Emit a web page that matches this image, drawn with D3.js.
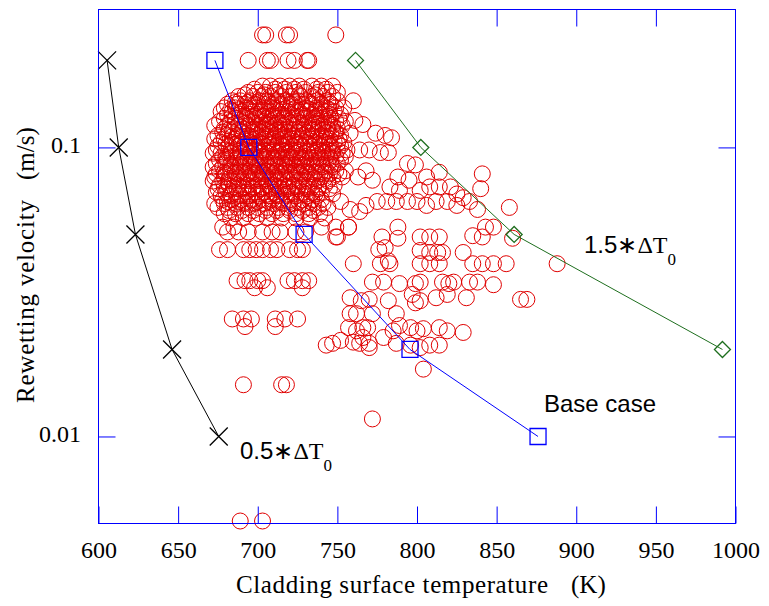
<!DOCTYPE html>
<html>
<head>
<meta charset="utf-8">
<script src="https://cdn.jsdelivr.net/npm/d3@7"></script>
<style>
  body { margin: 0; background: #fff; }
  svg { display: block; }
</style>
</head>
<body>
<div id="chart"></div>
<script>
'use strict';

// measured rewetting points, read off the figure
// rows of the dense cluster: [velocity (m/s), [temperatures (K)]]
const coreRows = [
  [0.245, [703, 705, 718, 720, 749]],
  [0.2, [694, 706, 708, 719, 723, 731, 732]],
  [0.163, [703, 708, 714, 720, 726, 734, 740, 747]],
  [0.155, [694, 700, 705, 711, 718, 724, 730, 738, 744, 750]],
  [0.145, [684, 689, 695, 701, 706, 712, 718, 725, 731, 737, 744, 750]],
  [0.137, [679, 686, 693, 699, 705, 711, 718, 724, 730, 737, 743, 749, 754]],
  [0.130, [681, 689, 695, 700, 705, 710, 715, 721, 728, 734, 739, 745, 752]],
  [0.123, [676, 683, 690, 696, 703, 708, 713, 719, 725, 732, 737, 743, 749, 755]],
  [0.116, [679, 685, 691, 698, 703, 708, 714, 720, 726, 733, 738, 744, 750]],
  [0.110, [675, 681, 687, 694, 700, 705, 711, 716, 722, 728, 734, 740, 746, 752]],
  [0.104, [677, 684, 690, 696, 701, 707, 713, 718, 724, 730, 736, 742, 748, 754]],
  [0.098, [674, 680, 686, 693, 698, 704, 710, 715, 721, 726, 733, 738, 744, 750, 756]],
  [0.093, [678, 684, 690, 696, 702, 708, 713, 719, 725, 730, 737, 743, 749, 755]],
  [0.088, [674, 680, 686, 692, 698, 703, 709, 715, 720, 726, 732, 738, 744, 750]],
  [0.083, [676, 683, 689, 695, 701, 706, 712, 718, 724, 730, 737, 743, 749, 755]],
  [0.079, [673, 679, 686, 692, 698, 703, 709, 715, 721, 728, 734, 740, 747, 753]],
  [0.074, [676, 682, 688, 694, 700, 706, 711, 717, 723, 729, 735, 742, 748]],
  [0.070, [674, 680, 686, 693, 699, 704, 710, 716, 721, 728, 734, 740]],
  [0.066, [678, 684, 690, 696, 703, 709, 715, 721, 728, 734, 740]],
  [0.062, [675, 681, 687, 694, 700, 706, 713, 719, 725, 732, 738, 744]],
  [0.059, [679, 686, 694, 701, 709, 716, 724, 732, 739]],
  [0.057, [683, 691, 699, 706, 715, 724, 733, 742]],
  [0.053, [678, 685, 740, 749, 757]]
];

// readings lying between the rows above
const coreInfill = [
  [0.159, [698, 711, 717, 723, 729, 737, 743]],
  [0.150, [688, 697, 702, 708, 715, 721, 727, 734, 741, 747]],
  [0.141, [681, 687, 692, 698, 704, 709, 715, 721, 728, 734, 740, 746]],
  [0.133, [677, 684, 690, 697, 702, 708, 713, 719, 726, 731, 736, 742, 748]],
  [0.126, [679, 686, 693, 699, 706, 711, 716, 722, 729, 735, 740, 746, 751]],
  [0.119, [673, 681, 688, 694, 700, 706, 711, 717, 723, 729, 735, 741, 747, 753]],
  [0.113, [678, 684, 690, 697, 702, 708, 713, 719, 725, 731, 737, 743, 749]],
  [0.107, [673, 679, 686, 693, 698, 704, 710, 716, 721, 727, 733, 739, 745, 751]],
  [0.101, [675, 682, 688, 694, 699, 705, 711, 716, 722, 728, 734, 740, 746, 752]],
  [0.0955, [672, 677, 683, 689, 695, 701, 706, 712, 718, 723, 729, 735, 741, 747, 753]],
  [0.0905, [676, 681, 688, 694, 699, 705, 711, 717, 722, 728, 734, 740, 746, 752]],
  [0.0855, [672, 678, 684, 690, 696, 701, 707, 713, 718, 724, 729, 735, 741, 747]],
  [0.081, [674, 680, 687, 693, 699, 704, 710, 716, 722, 727, 733, 739, 745, 751]],
  [0.0765, [672, 678, 684, 690, 696, 702, 707, 713, 719, 726, 731, 737, 744]],
  [0.072, [675, 681, 687, 691, 697, 702, 708, 714, 719, 725, 731, 738, 745]],
  [0.068, [677, 683, 689, 695, 701, 707, 712, 718, 724, 731, 737]],
  [0.064, [673, 679, 686, 692, 698, 704, 710, 716, 722, 729, 735, 741]],
  [0.0605, [682, 690, 697, 705, 712, 720, 728, 735]]
];

// the solid centre of the cluster
const coreCentre = [
  [0.152, [692, 704, 713, 726, 736]],
  [0.143, [686, 694, 700, 707, 713, 719, 723, 732, 739, 745]],
  [0.135, [683, 688, 695, 703, 710, 716, 722, 728, 733, 740, 745]],
  [0.128, [684, 692, 698, 703, 709, 717, 724, 730, 737, 744]],
  [0.121, [686, 692, 698, 705, 710, 715, 721, 727, 734, 739, 745]],
  [0.115, [682, 688, 695, 700, 706, 712, 717, 723, 729, 735, 741, 747]],
  [0.109, [684, 690, 696, 702, 708, 714, 719, 726, 732, 738, 743]],
  [0.103, [680, 687, 692, 698, 703, 709, 715, 720, 726, 732, 739, 745, 750]],
  [0.097, [683, 689, 696, 701, 707, 713, 718, 724, 731, 736, 741, 747]],
  [0.092, [680, 687, 692, 698, 704, 710, 715, 721, 727, 733, 739, 745]],
  [0.087, [683, 689, 695, 700, 706, 711, 717, 723, 728, 734, 740, 746]],
  [0.082, [679, 686, 691, 697, 703, 708, 714, 720, 726, 731, 736, 742]],
  [0.078, [682, 688, 694, 700, 705, 711, 717, 723, 730, 736, 742]],
  [0.073, [679, 685, 691, 697, 703, 708, 713, 719, 725, 732, 738]],
  [0.069, [683, 688, 694, 700, 706, 712, 718, 723, 730, 736]],
  [0.065, [681, 688, 694, 700, 707, 714, 720, 726, 733]]
];

// scattered points right of the cluster: [T, v]
const rightWing = [
  [760, 0.145], [761, 0.124], [766, 0.12], [758, 0.112], [774, 0.112], [780, 0.11],
  [784, 0.108], [764, 0.098], [770, 0.098], [777, 0.096], [782, 0.096],
  [768, 0.083], [763, 0.079], [772, 0.077]
];

const middleBand = [
  [747, 0.069], [752, 0.065], [758, 0.061], [764, 0.06], [768, 0.063], [775, 0.065],
  [781, 0.065], [787, 0.065], [794, 0.065], [800, 0.065], [806, 0.063], [812, 0.065],
  [819, 0.065], [825, 0.063], [783, 0.073], [789, 0.071], [802, 0.071], [808, 0.073],
  [814, 0.073], [821, 0.073], [825, 0.069], [829, 0.067], [833, 0.065], [838, 0.061],
  [794, 0.088], [799, 0.087], [788, 0.079], [795, 0.077], [806, 0.079], [814, 0.082],
  [841, 0.081], [840, 0.072], [858, 0.062]
];

const lowerLeft = [
  [681, 0.051], [688, 0.051], [694, 0.051], [703, 0.051], [709, 0.051], [714, 0.051],
  [724, 0.051], [730, 0.051], [750, 0.049],
  [676, 0.0443], [681, 0.0443], [691, 0.0443], [695, 0.0443], [699, 0.0443], [703, 0.0443],
  [708, 0.0443], [712, 0.0443], [720, 0.0443], [725, 0.0443], [728, 0.0443],
  [687, 0.0346], [692, 0.0346], [695, 0.0346], [700, 0.0346], [703, 0.0346], [719, 0.0346],
  [723, 0.0346], [728, 0.0346], [732, 0.0346], [698, 0.0327], [706, 0.0327], [728, 0.0327],
  [684, 0.0255], [691, 0.0255], [696, 0.0255], [711, 0.0255], [717, 0.0255], [725, 0.0255],
  [692, 0.024], [711, 0.024],
  [691, 0.0151], [715, 0.0151], [718, 0.0151],
  [689, 0.0051], [703, 0.0051], [772, 0.0115]
];

const lowerRight = [
  [757, 0.053], [749, 0.049], [778, 0.049], [788, 0.053], [788, 0.0485], [802, 0.049],
  [808, 0.049], [814, 0.049], [835, 0.0495], [841, 0.049], [843, 0.053], [848, 0.053],
  [860, 0.0485], [776, 0.0443], [780, 0.045], [802, 0.044], [808, 0.0433], [813, 0.0433],
  [816, 0.0433], [829, 0.0433], [760, 0.0396], [777, 0.0396], [783, 0.0396], [782, 0.0405],
  [802, 0.0396], [808, 0.0396], [814, 0.0396], [835, 0.0396], [841, 0.0396], [848, 0.0396],
  [856, 0.0396], [888, 0.0396], [772, 0.0342], [779, 0.0342], [789, 0.0338], [799, 0.0338],
  [802, 0.0342], [816, 0.0342], [820, 0.0338], [823, 0.0342], [833, 0.0342], [838, 0.0342],
  [848, 0.0335], [758, 0.0302], [765, 0.0295], [770, 0.0298], [782, 0.0295], [799, 0.029],
  [802, 0.0295], [797, 0.031], [812, 0.0302], [819, 0.031], [831, 0.0302], [865, 0.0298],
  [869, 0.0298], [758, 0.0266], [762, 0.0266], [772, 0.0266], [787, 0.0266], [757, 0.0238],
  [762, 0.0232], [766, 0.0238], [769, 0.0238], [785, 0.0232], [789, 0.0242], [796, 0.0238],
  [800, 0.0232], [804, 0.0236], [814, 0.0238], [819, 0.0232], [829, 0.0229], [747, 0.021],
  [752, 0.0215], [760, 0.0212], [764, 0.021], [770, 0.021], [766, 0.022], [779, 0.022],
  [743, 0.0207], [770, 0.0203], [787, 0.021], [796, 0.0207], [802, 0.0203], [808, 0.0207],
  [814, 0.0207], [804, 0.0171]
];

// calculated cases
const halfDeltaTemp = [605.4, 612.7, 623.2, 646.2, 675.5];
const halfDeltaVel = [0.2, 0.1, 0.05, 0.02, 0.01];
const baseTemp = [673.1, 694.4, 729.1, 795.6, 876];
const baseVel = [0.2, 0.1, 0.05, 0.02, 0.01];
const oneHalfDeltaTemp = [761.4, 802.4, 861, 991.8];
const oneHalfDeltaVel = [0.2, 0.1, 0.05, 0.02];

const xTicks = [600, 650, 700, 750, 800, 850, 900, 950, 1000];
const yTicks = [0.1, 0.01];

const W = 769, H = 606;
const plotLeft = 98.5, plotRight = 735.5, plotTop = 9.5, plotBottom = 523.5;
const axisBlue = '#0000ff';
const serif = '"Liberation Serif", "Times New Roman", serif';
const sans = '"Liberation Sans", Arial, sans-serif';

const rowsToPoints = (rows) => rows.flatMap(([v, ts]) => ts.map((t) => [t, v]));
const measured = rowsToPoints(coreRows)
  .concat(rowsToPoints(coreInfill), rowsToPoints(coreCentre),
    rightWing, middleBand, lowerLeft, lowerRight);

const x = d3.scaleLinear().domain([600, 1000]).range([plotLeft, plotRight]);
const y = d3.scaleLog().domain([0.005, 0.3]).range([plotBottom, plotTop]);

const svg = d3.select('#chart').append('svg')
  .attr('width', W)
  .attr('height', H);

// measured data
svg.append('g').selectAll('circle')
  .data(measured)
  .enter()
  .append('circle')
  .attr('cx', (d) => x(d[0]))
  .attr('cy', (d) => y(d[1]))
  .attr('r', 8)
  .attr('fill', 'none')
  .attr('stroke', '#e00000')
  .attr('stroke-width', 1);

const line = d3.line()
  .x((d) => x(d[0]))
  .y((d) => y(d[1]));

const series = [
  { temp: halfDeltaTemp, vel: halfDeltaVel, color: '#000', marker: 'M-9,-9L9,9M-9,9L9,-9' },
  { temp: baseTemp, vel: baseVel, color: '#0000ff', marker: 'M-8,-8H8V8H-8Z' },
  { temp: oneHalfDeltaTemp, vel: oneHalfDeltaVel, color: '#1e6e1e', marker: 'M0,-8L8,0L0,8L-8,0Z' }
];

series.forEach((s) => {
  const pts = s.temp.map((t, i) => [t, s.vel[i]]);
  svg.append('path')
    .datum(pts)
    .attr('d', line)
    .attr('fill', 'none')
    .attr('stroke', s.color)
    .attr('stroke-width', 1);
  svg.append('g').selectAll('path')
    .data(pts)
    .enter()
    .append('path')
    .attr('transform', (d) => `translate(${x(d[0])},${y(d[1])})`)
    .attr('d', s.marker)
    .attr('fill', 'none')
    .attr('stroke', s.color)
    .attr('stroke-width', 1.3);
});

// axes: ticks point inwards on all four sides
const styleAxis = (g) => {
  g.select('.domain').remove();
  g.selectAll('line').attr('stroke', axisBlue);
  g.selectAll('text')
    .attr('font-family', serif)
    .attr('font-size', 24)
    .attr('fill', '#000');
};

svg.append('g')
  .attr('transform', `translate(0,${plotBottom})`)
  .call(d3.axisBottom(x).tickValues(xTicks).tickSizeInner(-17).tickSizeOuter(0)
    .tickPadding(17).tickFormat(d3.format('d')))
  .call(styleAxis);

svg.append('g')
  .attr('transform', `translate(0,${plotTop})`)
  .call(d3.axisTop(x).tickValues(xTicks.slice(1, -1)).tickSizeInner(-17).tickSizeOuter(0)
    .tickFormat(''))
  .call(styleAxis);

svg.append('g')
  .attr('transform', `translate(${plotLeft},0)`)
  .call(d3.axisLeft(y).tickValues(yTicks).tickSizeInner(-17).tickSizeOuter(0)
    .tickPadding(17.5).tickFormat((d) => String(d)))
  .call(styleAxis)
  .selectAll('text').attr('dy', '0.22em');

svg.append('g')
  .attr('transform', `translate(${plotRight},0)`)
  .call(d3.axisRight(y).tickValues(yTicks).tickSizeInner(-17).tickSizeOuter(0)
    .tickFormat(''))
  .call(styleAxis);

svg.append('rect')
  .attr('x', plotLeft)
  .attr('y', plotTop)
  .attr('width', plotRight - plotLeft)
  .attr('height', plotBottom - plotTop)
  .attr('fill', 'none')
  .attr('stroke', axisBlue)
  .attr('stroke-width', 1);

// axis titles
svg.append('text')
  .attr('x', 236).attr('y', 593)
  .attr('font-family', serif).attr('font-size', 25)
  .attr('textLength', 312).attr('lengthAdjust', 'spacing')
  .text('Cladding surface temperature');
svg.append('text')
  .attr('x', 571).attr('y', 593)
  .attr('font-family', serif).attr('font-size', 25)
  .text('(K)');

svg.append('text')
  .attr('transform', 'translate(34,403) rotate(-90)')
  .attr('font-family', serif).attr('font-size', 25)
  .attr('textLength', 203).attr('lengthAdjust', 'spacing')
  .text('Rewetting velocity');
svg.append('text')
  .attr('transform', 'translate(34,180) rotate(-90)')
  .attr('font-family', serif).attr('font-size', 25)
  .text('(m/s)');

// case labels
const caseLabel = (px, py, factor) => {
  const t = svg.append('text').attr('x', px).attr('y', py).attr('font-size', 24);
  t.append('tspan').attr('font-family', sans).text(factor);
  t.append('tspan').attr('font-family', sans).text('\u2217');
  t.append('tspan').attr('font-family', serif).text('\u0394T');
  t.append('tspan').attr('font-family', serif).attr('font-size', 17).attr('dy', 12).text('0');
};
caseLabel(240, 459, '0.5');
caseLabel(584, 253, '1.5');

svg.append('text')
  .attr('x', 544).attr('y', 412)
  .attr('font-family', sans).attr('font-size', 24)
  .text('Base case');
</script>
</body>
</html>
